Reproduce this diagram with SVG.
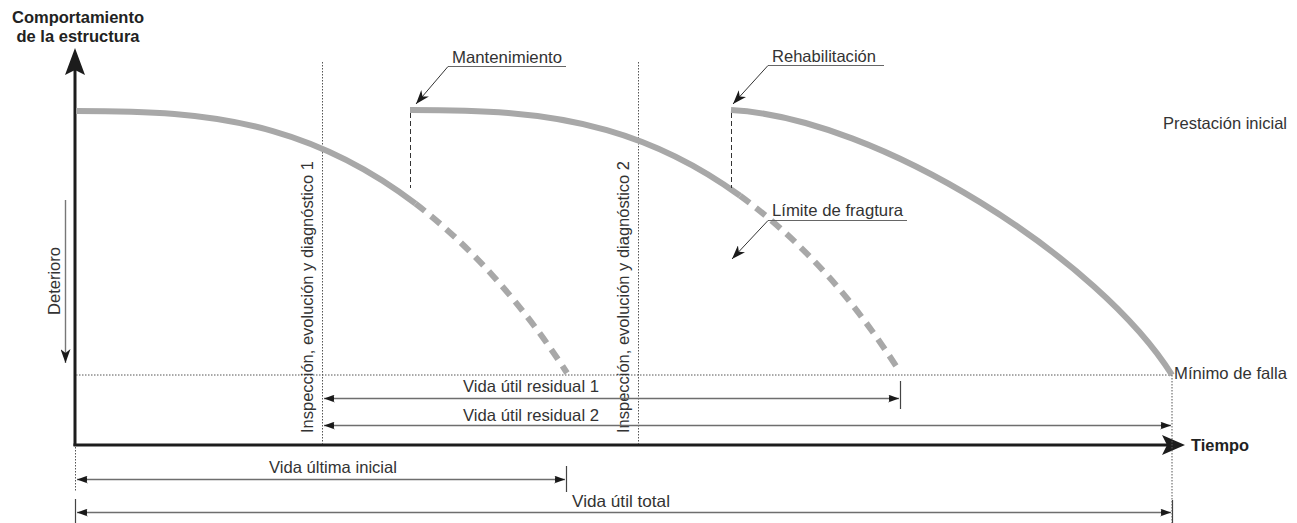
<svg xmlns="http://www.w3.org/2000/svg" width="1297" height="523" viewBox="0 0 1297 523">
  <style>
    .lbl { font-family: "Liberation Sans", Arial, sans-serif; font-size: 16.5px; fill: #333; }
    .bold { font-family: "Liberation Sans", Arial, sans-serif; font-size: 16.5px; font-weight: bold; fill: #222; }
    .curve { fill: none; stroke: #a8a8a8; stroke-width: 6; stroke-linejoin: round; }
    .curve-dash { fill: none; stroke: #a8a8a8; stroke-width: 6; stroke-dasharray: 12 8; stroke-linejoin: round; }
    .dim { fill: none; stroke: #6e6e6e; stroke-width: 1.6; }
    .tick { fill: none; stroke: #444; stroke-width: 1.2; }
    .dotted { fill: none; stroke: #555; stroke-width: 1; stroke-dasharray: 1.5 1.5; }
    .guide { fill: none; stroke: #333; stroke-width: 1; stroke-dasharray: 5 3; }
    .leader { fill: none; stroke: #333; stroke-width: 1; }
    .underline { fill: none; stroke: #666; stroke-width: 1.2; }
    .axis { fill: none; stroke: #1c1c1c; stroke-width: 3; }
  </style>
  <defs>
    <marker id="dimHead" viewBox="0 0 11 8" refX="11" refY="4" markerWidth="11" markerHeight="8" markerUnits="userSpaceOnUse" orient="auto-start-reverse">
      <path d="M11 4 L0 0 L4 4 L0 8 Z M6 4 L1 1.5 L1 6.5 Z" fill="#1a1a1a"/>
    </marker>
    <marker id="leaderHead" viewBox="0 0 14 10" refX="14" refY="5" markerWidth="14" markerHeight="10" markerUnits="userSpaceOnUse" orient="auto">
      <path d="M14 5 L0 0 L4 5 L0 10 Z" fill="#1a1a1a"/>
    </marker>
  </defs>

  <!-- axes -->
  <g id="axes">
    <line class="axis" x1="75" y1="446" x2="75" y2="70"/>
    <polygon points="75,48 85,75 75,70 65,75" fill="#1c1c1c"/>
    <line class="axis" x1="73.5" y1="445" x2="1168" y2="445"/>
    <polygon points="1185,445 1162,435 1167,445 1162,455" fill="#1c1c1c"/>
    <text class="bold" x="78" y="23" text-anchor="middle" textLength="132" lengthAdjust="spacingAndGlyphs">Comportamiento</text>
    <text class="bold" x="78" y="42" text-anchor="middle" textLength="123" lengthAdjust="spacingAndGlyphs">de la estructura</text>
    <text class="bold" x="1191" y="451" textLength="58" lengthAdjust="spacingAndGlyphs">Tiempo</text>
  </g>

  <!-- reference levels and inspection instants -->
  <g id="guides">
    <line class="dotted" x1="76" y1="375" x2="1172" y2="375"/>
    <line class="dotted" x1="322.5" y1="62" x2="322.5" y2="444"/>
    <line class="dotted" x1="638.5" y1="62" x2="638.5" y2="444"/>
    <line class="dotted" x1="1172" y1="375" x2="1172" y2="523"/>
    <line class="dotted" x1="75.5" y1="447" x2="75.5" y2="492"/>
  </g>

  <g id="inspeccion-1">
    <text class="lbl" transform="translate(313,433) rotate(-90)" textLength="272" lengthAdjust="spacingAndGlyphs">Inspección, evolución y diagnóstico 1</text>
  </g>
  <g id="inspeccion-2">
    <text class="lbl" transform="translate(629,433) rotate(-90)" textLength="272" lengthAdjust="spacingAndGlyphs">Inspección, evolución y diagnóstico 2</text>
  </g>

  <!-- performance curves -->
  <g id="curva-inicial">
    <path class="curve" d="M76,111 C141.6,111 207.2,112.3 272.8,131.1 C320.4,144.7 367.9,167.3 415.5,203.7"/>
    <path class="curve-dash" d="M415.5,203.7 C441.7,223.8 468,248 494.2,277.2 C518.8,304.6 543.4,336.3 567,373"/>
  </g>
  <g id="curva-mantenimiento">
    <path class="curve" d="M410,110 C475.6,110 541.2,111.3 606.8,130.1 C651.2,142.8 695.7,163.5 740.1,195.8"/>
    <path class="curve-dash" d="M740.1,195.8 C769.5,217.2 798.8,243.5 828.2,276.2 C852.5,303.2 876.7,335.8 900,372"/>
  </g>
  <g id="curva-rehabilitacion">
    <path class="curve" d="M731,110 C880,118 1100,260 1172,375"/>
  </g>

  <!-- interventions -->
  <g id="mantenimiento">
    <line class="guide" x1="410.5" y1="113" x2="410.5" y2="188"/>
    <line class="underline" x1="448" y1="66.5" x2="566" y2="66.5"/>
    <text class="lbl" x="452" y="63" textLength="110" lengthAdjust="spacingAndGlyphs">Mantenimiento</text>
  </g>
  <g id="rehabilitacion">
    <line class="guide" x1="731.5" y1="113" x2="731.5" y2="188"/>
    <line class="underline" x1="768" y1="65.5" x2="884" y2="65.5"/>
    <text class="lbl" x="772" y="62" textLength="104" lengthAdjust="spacingAndGlyphs">Rehabilitación</text>
  </g>
  <g id="limite-fragtura">
    <line class="underline" x1="768" y1="220.5" x2="907" y2="220.5"/>
    <text class="lbl" x="772" y="216" textLength="131" lengthAdjust="spacingAndGlyphs">Límite de fragtura</text>
  </g>
  <g id="prestacion-inicial">
    <text class="lbl" x="1163" y="129" textLength="124" lengthAdjust="spacingAndGlyphs">Prestación inicial</text>
  </g>
  <g id="minimo-falla">
    <text class="lbl" x="1174" y="379" textLength="113" lengthAdjust="spacingAndGlyphs">Mínimo de falla</text>
  </g>
  <g id="deterioro">
    <text class="lbl" transform="translate(60,315) rotate(-90)" textLength="68" lengthAdjust="spacingAndGlyphs">Deterioro</text>
  </g>

  <!-- connectors: leaders and dimension lines -->
  <g id="connectors">
    <line class="leader" x1="448" y1="66.5" x2="416" y2="104" marker-end="url(#leaderHead)"/>
    <line class="leader" x1="768" y1="65.5" x2="733" y2="104" marker-end="url(#leaderHead)"/>
    <line class="leader" x1="768" y1="220.5" x2="732" y2="259" marker-end="url(#leaderHead)"/>
    <line x1="65.5" y1="200" x2="65.5" y2="363" stroke="#777" stroke-width="1.4" marker-end="url(#leaderHead)"/>

    <line class="dim" x1="324" y1="398.5" x2="899" y2="398.5" marker-start="url(#dimHead)" marker-end="url(#dimHead)"/>
    <line class="tick" x1="900.5" y1="381" x2="900.5" y2="409"/>
    <line class="dim" x1="324" y1="425.5" x2="1171" y2="425.5" marker-start="url(#dimHead)" marker-end="url(#dimHead)"/>
    <line class="dim" x1="77" y1="479.5" x2="565" y2="479.5" marker-start="url(#dimHead)" marker-end="url(#dimHead)"/>
    <line class="tick" x1="566.5" y1="466" x2="566.5" y2="492"/>
    <line class="dim" x1="77" y1="512.5" x2="1171" y2="512.5" marker-start="url(#dimHead)" marker-end="url(#dimHead)"/>
    <line class="tick" x1="75.5" y1="499" x2="75.5" y2="523"/>
    <line class="tick" x1="1172.5" y1="500" x2="1172.5" y2="523"/>
  </g>

  <g id="cotas">
    <text class="lbl" x="531" y="392" text-anchor="middle" textLength="136" lengthAdjust="spacingAndGlyphs">Vida útil residual 1</text>
    <text class="lbl" x="531" y="421" text-anchor="middle" textLength="136" lengthAdjust="spacingAndGlyphs">Vida útil residual 2</text>
    <text class="lbl" x="333" y="473" text-anchor="middle" textLength="128" lengthAdjust="spacingAndGlyphs">Vida última inicial</text>
    <text class="lbl" x="572" y="507" textLength="98" lengthAdjust="spacingAndGlyphs">Vida útil total</text>
  </g>
</svg>
